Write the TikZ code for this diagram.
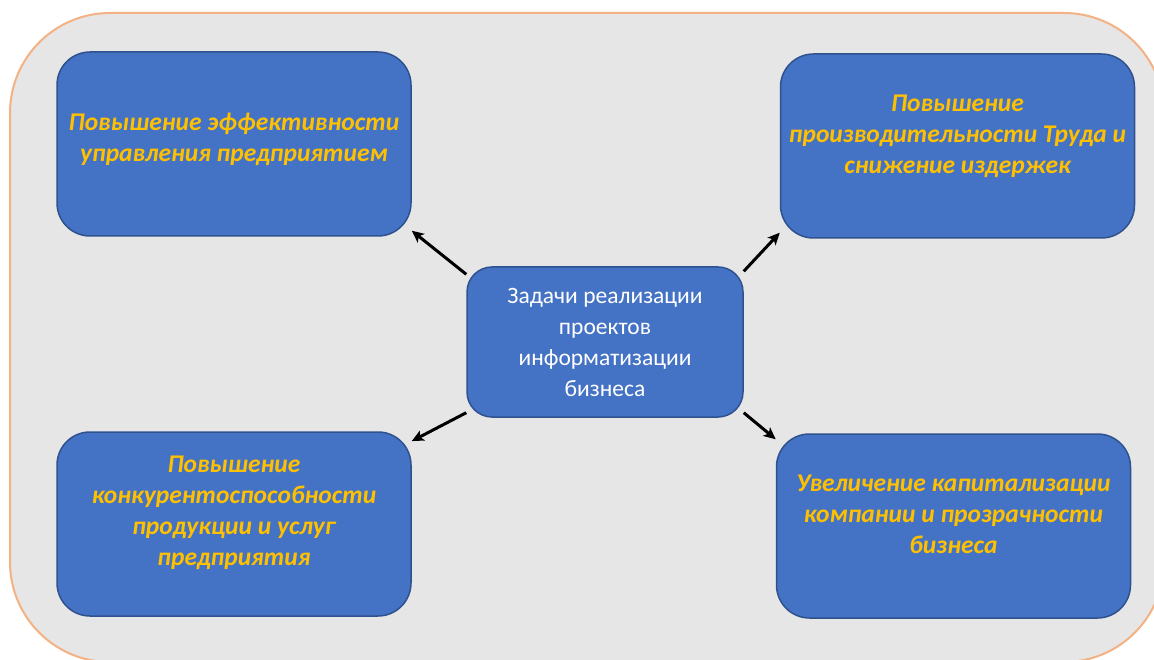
\documentclass[tikz,border=0pt]{standalone}
\usepackage{fontspec}
\setmainfont{Carlito}
\usetikzlibrary{arrows.meta}
\definecolor{frameFill}{RGB}{231,230,230}
\definecolor{frameLine}{RGB}{244,177,131}
\definecolor{cardFill}{RGB}{68,114,196}
\definecolor{cardLine}{RGB}{47,82,143}
\definecolor{goalText}{RGB}{255,192,0}

% text block raised by #1, taking no room of its own
\newcommand{\lifted}[2]{\raisebox{#1}[0pt][0pt]{\begin{tabular}{@{}c@{}}#2\end{tabular}}}

\begin{document}
\begin{tikzpicture}[
  x=1pt, y=-1pt,
  frame/.style={draw=frameLine, fill=frameFill, line width=2pt, rounded corners=100pt},
  card/.style={draw=cardLine, fill=cardFill, line width=1.5pt, inner sep=0pt},
  goal/.style={card, rounded corners=33pt, minimum width=354pt, minimum height=184pt,
               text=goalText, font=\fontsize{25.5}{31}\selectfont\bfseries\itshape},
  task/.style={card, rounded corners=25pt, minimum width=276pt, minimum height=150pt,
               text=white, font=\fontsize{23.5}{31}\selectfont},
  link/.style={-{Stealth[length=12pt, width=11pt, inset=3pt]}, line width=3pt, black},
]
\useasboundingbox (0,0) rectangle (1154,660);

% --- Outer frame ---
\begin{scope}
  \clip (0,0) rectangle (1154,660);
  \draw[frame] (10,13) rectangle (1164,662);
\end{scope}

% --- Central task ---
\node[task] (tasks) at (605,342) {\lifted{-8pt}{Задачи реализации\\проектов\\информатизации\\бизнеса}};

% --- Goals in the four corners ---
\node[goal] (eff)   at (234,144)   {\lifted{-2pt}{Повышение эффективности\\управления предприятием}};
\node[goal] (prod)  at (957.5,146) {\lifted{3pt}{Повышение\\производительности Труда и\\снижение издержек}};
\node[goal] (comp)  at (234,524)   {\lifted{5pt}{Повышение\\конкурентоспособности\\продукции и услуг\\предприятия}};
\node[goal] (capit) at (953.5,526) {\lifted{3pt}{Увеличение капитализации\\компании и прозрачности\\бизнеса}};

% --- Arrows from the task to each goal ---
\draw[link] (tasks.154) -- (eff.-26);
\draw[link] (tasks.27)  -- (prod.206);
\draw[link] (tasks.207) -- (comp.25);
\draw[link] (tasks.-27) -- (capit.154);

\end{tikzpicture}
\end{document}
